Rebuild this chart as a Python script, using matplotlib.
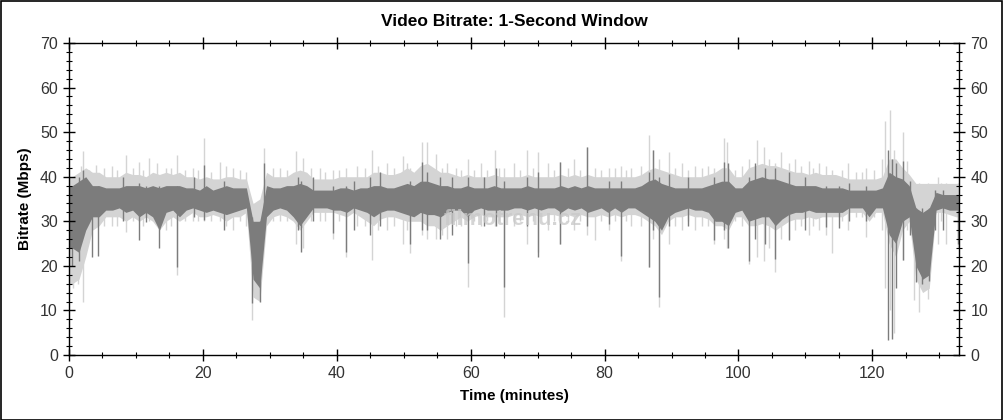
import matplotlib
matplotlib.use('Agg')
from matplotlib import pyplot as plt
from matplotlib.patches import Rectangle
import numpy as np

plt.rcParams['font.family'] = ['Liberation Sans', 'DejaVu Sans']

# per-minute envelopes (minute 0..132)
dark_lo = [24, 23, 28, 31, 31, 32.5, 32.5, 33, 32, 32.5, 31, 32, 31, 28, 32, 32.5, 31, 32.5, 33, 32.5,
           32, 32.5, 32, 31.5, 32, 32.5, 33, 17, 15, 31, 32.5, 33, 32.5, 31, 29, 31, 33, 33, 33, 32.5,
           32.5, 32, 33, 32.5, 32, 31, 32, 32.5, 32.5, 32, 31.5, 31, 32, 31.5, 31.5, 31, 32, 32.5, 32.5, 31,
           32.5, 33, 32.5, 32.5, 32.5, 32.5, 33, 33, 32.5, 33, 32.5, 33, 33, 32, 33, 32.5, 33, 32, 32.5, 33,
           32, 33, 32, 33, 33, 32, 31, 30, 28, 31, 32, 32.5, 33, 32.5, 32.5, 32, 30, 30, 29, 32,
           32.5, 30, 30.5, 31, 31, 29, 30.5, 31.5, 32, 32, 32.5, 32, 32, 32, 32, 32, 33, 33, 33, 31,
           33, 33, 27, 25, 30, 31, 20, 17, 18, 32.5, 33, 32.5, 32.5]
dark_hi = [38, 39, 40, 38, 38, 37.5, 37.5, 37.5, 38, 38, 38, 37.5, 38, 37.5, 38, 38, 38, 37.5, 37.5, 37,
           38, 37, 37.5, 38, 37.5, 37.5, 37.5, 30, 30, 38, 37.5, 37.5, 38, 38, 38.5, 38, 37, 37, 37, 37,
           37.5, 37.5, 37, 37.5, 37.5, 38, 38, 37.5, 37.5, 38, 38.5, 38, 39, 39, 38.5, 38, 38, 37.5, 37.5, 38,
           37.5, 37.5, 37.5, 38, 37.5, 37.5, 37.5, 37.5, 38, 37.5, 37.5, 37.5, 37.5, 38, 37.5, 38, 37.5, 38, 37.5, 37.5,
           37.5, 37.5, 37.5, 37.5, 37.5, 38, 39, 39.5, 38.5, 38, 37.5, 37.5, 37.5, 37.5, 37.5, 38, 38.5, 39, 39, 37.5,
           37.5, 39, 39.5, 40, 39.5, 39.5, 39, 38.5, 38, 38, 38, 38, 37.5, 37.5, 37.5, 37.5, 37, 37, 37, 37,
           37, 37.5, 41, 40, 39.5, 38, 33, 32, 33, 36.5, 36, 36, 36]
light_lo = [16, 17, 22, 28, 29, 31, 31, 31, 30, 31, 30, 31, 30, 28, 30, 31, 30, 31, 32, 31,
            31, 31.5, 31, 30, 31, 31, 32, 13, 12, 29, 31, 31.5, 31, 30, 28, 30, 32, 32, 32, 32,
            31.5, 31, 32, 31, 30, 29, 30.5, 31, 31, 30.5, 30, 30, 30, 29, 29, 28, 29, 30, 31, 30,
            31, 31.5, 31, 31, 31, 31, 31.5, 31.5, 31, 31.5, 31, 31.5, 31.5, 31, 31.5, 31, 31.5, 31, 31, 31.5,
            31, 31.5, 31, 31.5, 31.5, 31, 30, 29, 27, 30, 31, 31, 31.5, 31, 31, 30.5, 29, 29, 28, 31,
            31, 29, 29, 29.5, 29, 28, 29, 30, 30.5, 30.5, 31, 30.5, 31, 31, 31, 31, 32, 32, 32, 30,
            32, 32, 25, 22, 28, 30, 17, 14, 15, 32, 32, 31.5, 31]
light_hi = [40, 41, 42, 41, 41, 40, 40, 40, 41, 40.5, 40.5, 40, 41, 40.5, 41, 40.5, 41, 40, 40, 39.5,
            40, 39.5, 39.5, 40, 40, 39.5, 39.5, 34, 35, 41, 40, 40, 40, 41, 41.5, 41, 39.5, 39.5, 39.5, 39.5,
            40, 40, 40, 40, 40, 41, 41, 40.5, 40.5, 41, 42, 41, 42.5, 43, 42, 41, 41, 40.5, 40, 40.5,
            40, 40, 40, 40.5, 40, 40, 40, 40, 40.5, 40, 40, 40, 40, 40.5, 40, 40.5, 40, 40.5, 40, 40,
            40, 40, 40, 40, 40, 40.5, 41.5, 42, 41.5, 41, 40.5, 40, 40, 40, 40, 40.5, 41, 42, 42, 40,
            40, 42, 42.5, 43, 42.5, 42.5, 42, 41.5, 41, 41, 40.5, 41, 40.5, 40.5, 40.5, 40, 39.5, 39.5, 39.5, 39.5,
            39.5, 40, 44, 44, 42, 40.5, 38.5, 38.5, 38.5, 38.5, 38.5, 38.5, 38.5]

# single-second spikes: minute, low, high
light_spk_t = [0.6, 1.3, 2.1, 4.1, 6.5, 8.5, 10.4, 12.0, 13.1, 14.5, 16.1, 18.5, 20.1,
               22.5, 24.5, 27.3, 29.1, 31.5, 33.9, 35.0, 37.5, 39.4, 41.4, 43.0,
               45.3, 47.5, 49.9, 51.0, 52.8, 53.5, 54.8, 56.5, 59.6, 61.5, 63.7, 65.0, 66.5,
               68.4, 70.0, 71.6, 73.4, 75.4, 77.4, 78.6, 80.6, 82.4, 84.0, 86.6, 87.3, 88.2,
               89.6, 91.5, 93.5, 96.3, 97.8, 98.3, 101.5, 102.8, 103.8, 104.5, 105.5, 106.3, 107.5, 108.5, 110.5,
               112.0, 113.0, 114.0, 116.3, 119.0, 121.5, 121.9, 122.7, 123.3, 124.6, 125.2, 126.2, 127.0, 128.3,
               129.8, 131.0, 132.8,
               1.8, 3.0, 5.3, 7.2, 9.5, 11.0, 15.2, 17.3, 19.3, 21.2, 23.5, 25.5, 26.5, 30.5, 32.5,
               36.2, 38.3, 40.3, 44.2, 46.2, 48.5, 50.5, 55.7, 57.8, 58.6, 60.5, 62.5, 64.3, 67.3,
               69.3, 72.5, 74.5, 76.3, 79.5, 81.5, 83.2, 85.5, 90.5, 92.5, 94.5, 95.5, 99.5, 100.5,
               109.3, 111.2, 115.5, 117.5, 118.5, 120.3, 130.2]
light_spk_lo = [15, 16, 12, 30, 29, 27.7, 30, 30, 30, 28, 18, 30, 30,
                30, 28, 7.8, 30, 30, 25, 24, 30, 26, 22, 29,
                21.3, 28, 25, 22.8, 27, 26, 26, 26, 15.3, 29, 29, 8.6, 29,
                25, 23, 28, 25, 28, 27, 25.8, 28, 21, 29, 19.8, 26, 10.8,
                25, 28, 28, 25, 26, 24, 20.5, 22, 21, 24, 18.7, 26, 26, 28, 27,
                28, 27, 22.8, 28, 26.5, 28, 15, 10, 5, 21.3, 28, 12.3, 9.7, 12.5,
                25, 25, 24,
                26, 29, 29, 29, 30, 29, 29, 30, 30, 30, 29, 30, 29, 30, 30,
                30, 30, 30, 29, 28, 29, 28, 27, 29, 29, 30, 30, 30, 30,
                30, 30, 30, 30, 30, 30, 30, 29, 29, 30, 29, 29, 30, 29,
                29, 29, 30, 31, 31, 31, 30]
light_spk_hi = [40, 40, 45.8, 42.6, 42.5, 44.9, 43.4, 44.1, 43, 42, 44.9, 42, 48.6,
                43.4, 42, 34, 46.4, 42, 45.8, 44.1, 42, 41.5, 42, 42.5,
                46, 43, 44.6, 42, 47.8, 47.8, 45, 43, 44, 43, 46, 42, 43,
                46, 45.5, 43, 43.4, 44, 46.7, 42, 42, 42.5, 42, 49.4, 46, 44,
                45.5, 43, 42.5, 42, 48.6, 47.8, 44, 48.2, 46.7, 44, 43, 45.5, 43, 44, 43.5,
                43, 42.5, 41.5, 43, 42, 44, 52.4, 55, 46, 50.1, 43.5, 38.5, 38.5, 38.5,
                40, 38.5, 38.5,
                42.5, 41.5, 42, 41.5, 42, 41.5, 42, 41.5, 41.5, 41, 42.5, 41.5, 41, 42, 41.5,
                42, 41, 41.5, 42, 42.5, 42, 43, 42, 42, 41.5, 41.5, 41.5, 42, 41.5,
                42, 41.5, 42, 41.5, 41.5, 42, 41.5, 42.5, 42, 41.5, 42, 42.5, 41.5, 42.5,
                42.5, 42, 41.5, 41, 41, 41.5, 38.5]

dark_spk_t = [0.5, 1.5, 2.1, 3.4, 4.4, 8.0, 10.4, 11.5, 13.4, 16.1, 18.7, 20.1,
              23.2, 27.3, 28.5, 29.1, 34.2, 34.6, 36.5, 39.4, 41.4, 42.5,
              45.0, 46.5, 51.0, 52.8, 53.5, 55.4, 57.2, 59.6, 62.0, 63.8, 65.0,
              68.4, 70.0, 73.4, 77.4, 80.6, 82.4, 86.6, 87.3, 88.2,
              89.6, 92.5, 96.3, 97.8, 98.5, 101.5, 102.5, 104.0, 105.5, 107.5, 110.0,
              113.0, 115.0, 116.5, 119.0, 122.3, 122.9, 123.5, 124.6, 125.6, 126.5, 127.4, 128.5,
              129.3, 130.5, 132.8]
dark_spk_lo = [20, 21, 28, 22, 22.1, 30, 25.8, 29.9, 24, 19.8, 31, 30.3,
               28, 11.6, 12, 28, 28, 23.2, 30, 27.3, 23.2, 28,
               27, 29, 25, 28, 28, 26, 27, 20.6, 29, 29, 15.3,
               29, 22, 25, 29, 29.5, 22.1, 19.8, 28, 13.1,
               29, 29, 25.8, 28, 24, 21, 26, 25, 21.5, 25.8, 28,
               28.8, 28.5, 30, 30, 3.4, 3.6, 15, 21.3, 27, 16.4, 16, 16.5,
               28, 28, 25]
dark_spk_hi = [38, 40, 41.5, 38, 38, 40, 38.5, 38, 38, 38, 40, 42.6,
               39, 31, 30, 43, 40, 39, 40, 38, 38, 39,
               40, 41, 39, 43.4, 41, 40, 40, 40, 40, 42, 39,
               40, 41, 43.4, 46.7, 39, 39, 41, 46, 40,
               40.5, 40, 40, 43.4, 43, 40, 43, 42, 42, 41, 40,
               38, 38, 38.5, 38, 46, 44, 43, 43.5, 39, 33, 33, 33,
               37, 37, 36]

light = '#d4d4d4'
dark = '#7c7c7c'

fig = plt.figure()
fig.set_size_inches(10.04, 4.2)
ax = fig.add_axes([0.0687, 0.1548, 0.8869, 0.7428])

# minute centres, padded out to both axis ends
n = len(dark_lo)
tm = np.concatenate([[0], np.arange(n) + 0.5, [133]])
pad = lambda a: [a[0]] + list(a) + [a[-1]]

ax.fill_between(tm, pad(light_lo), pad(light_hi), color=light, lw=0, zorder=1.0)
ax.vlines(light_spk_t, light_spk_lo, light_spk_hi, color=light, lw=1.0, zorder=1.1)
ax.fill_between(tm, pad(dark_lo), pad(dark_hi), color=dark, lw=0, zorder=1.2)
ax.vlines(dark_spk_t, dark_spk_lo, dark_spk_hi, color=dark, lw=1.0, zorder=1.3)

# watermark
ax.text(66.3, 30.3, 'filmotrenu.cz', fontsize=16, fontweight='bold', color='#c8c8c8',
        alpha=0.75, ha='center', va='center', zorder=1.5)

ax.set_xlim(0, 133)
ax.set_ylim(0, 70)
ax.set_xticks(np.arange(0, 121, 20))
ax.set_xticks(np.arange(0, 134, 5), minor=True)
ax.set_yticks(np.arange(0, 71, 10))
ax.set_yticks(np.arange(0, 71, 2), minor=True)
ax.tick_params(which='both', direction='inout', top=True, right=True, labelright=True,
               labelsize=11.5, labelcolor='#333333', pad=4)
ax.tick_params(which='major', length=8, width=1)
ax.tick_params(which='minor', length=5, width=0.8)
for s in ax.spines.values():
    s.set_linewidth(1)

ax.set_title('Video Bitrate: 1-Second Window', fontsize=12.5, fontweight='bold', pad=12)
ax.set_xlabel('Time (minutes)', fontsize=11, fontweight='bold', labelpad=6)
ax.set_ylabel('Bitrate (Mbps)', fontsize=11, fontweight='bold', labelpad=6)

fig.patches.append(Rectangle((0.001, 0.001), 0.997, 0.996, transform=fig.transFigure,
                             fill=False, edgecolor='black', lw=1.2))

fig.savefig('out.png', dpi=100)
